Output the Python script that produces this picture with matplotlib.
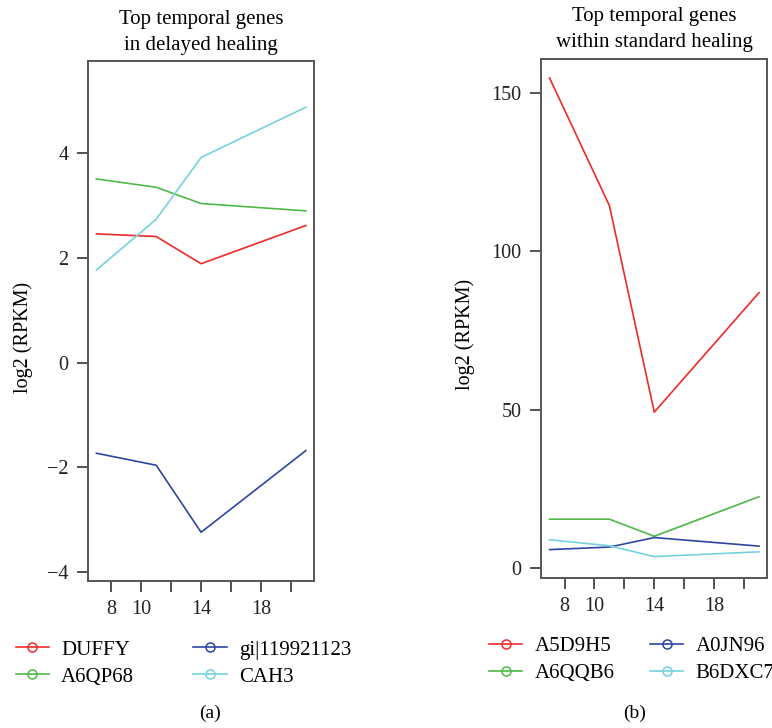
import matplotlib.pyplot as plt
from matplotlib.lines import Line2D

plt.rcParams['font.family'] = ['Liberation Serif', 'DejaVu Serif']

# Data
days = [7, 11, 14, 21]

genes_a = ["DUFFY", "A6QP68", "gi|119921123", "CAH3"]
duffy = [2.46, 2.41, 1.89, 2.62]
a6qp68 = [3.51, 3.35, 3.04, 2.90]
gi119921123 = [-1.73, -1.96, -3.24, -1.68]
cah3 = [1.77, 2.74, 3.92, 4.88]

genes_b = ["A5D9H5", "A6QQB6", "A0JN96", "B6DXC7"]
a5d9h5 = [154.7, 114.4, 49.2, 86.9]
a6qqb6 = [15.4, 15.4, 10.0, 22.5]
a0jn96 = [5.8, 6.6, 9.6, 6.9]
b6dxc7 = [8.9, 7.0, 3.6, 5.1]

x_ticks = [8, 10, 12, 14, 16, 18, 20]
x_labels = ["8", "10", "", "14", "", "18", ""]

colors = ['#ee2a2a', '#4fb848', '#2e46a2', '#74d2de']

fig = plt.figure(figsize=(7.72, 7.28), dpi=100)
ax1 = fig.add_axes([0.114, 0.202, 0.293, 0.714])
ax2 = fig.add_axes([0.701, 0.2065, 0.293, 0.713])


def style(ax, yticks, ylim):
    ax.set_xlim(6.44, 21.56)
    ax.set_ylim(*ylim)
    ax.set_xticks(x_ticks)
    ax.set_xticklabels(x_labels)
    ax.set_yticks(yticks)
    ax.set_yticklabels([str(t).replace('-', '\u2212') for t in yticks])
    ax.tick_params(direction='out', length=8, width=1.1, colors='#222222',
                   labelsize=14.5, pad=6)
    for s in ax.spines.values():
        s.set_color('#555555')
        s.set_linewidth(1.4)


# (a) delayed healing
for vals, c in zip([duffy, a6qp68, gi119921123, cah3], colors):
    ax1.plot(days, vals, color=c, lw=1.2)
style(ax1, [-4, -2, 0, 2, 4], (-4.17, 5.76))
ax1.set_title("Top temporal genes\nin delayed healing", fontsize=15,
              linespacing=1.5, pad=8)
ax1.set_ylabel("log2 (RPKM)", fontsize=14.5)
ax1.yaxis.set_label_coords(-0.243, 0.469)

# (b) standard healing
for vals, c in zip([a5d9h5, a6qqb6, a0jn96, b6dxc7], colors):
    ax2.plot(days, vals, color=c, lw=1.2)
style(ax2, [0, 50, 100, 150], (-3.06, 160.8))
ax2.set_title("Top temporal genes\nwithin standard healing", fontsize=15,
              linespacing=1.5, pad=8)
ax2.set_ylabel("log2 (RPKM)", fontsize=14.5)
ax2.yaxis.set_label_coords(-0.292, 0.469)

# Legends
for ax, names, anchor, colsp in [(ax1, genes_a, (-0.32, -0.114), 2.84),
                                 (ax2, genes_b, (-0.23, -0.114), 1.7)]:
    handles = [Line2D([0], [0], color=c, lw=1.2, marker='o', markersize=6.5,
                      markerfacecolor='none', markeredgewidth=1.1)
               for c in colors]
    ax.legend(handles, names, ncol=2,
              loc='upper left', bbox_to_anchor=anchor, frameon=False,
              fontsize=15, handlelength=1.6, handletextpad=0.58,
              columnspacing=colsp, labelspacing=0.35, borderaxespad=0,
              borderpad=0)

fig.text(0.272, 0.0206, "(a)", ha='center', va='center', fontsize=14)
fig.text(0.822, 0.0206, "(b)", ha='center', va='center', fontsize=14)

fig.savefig("out.png", dpi=100)
